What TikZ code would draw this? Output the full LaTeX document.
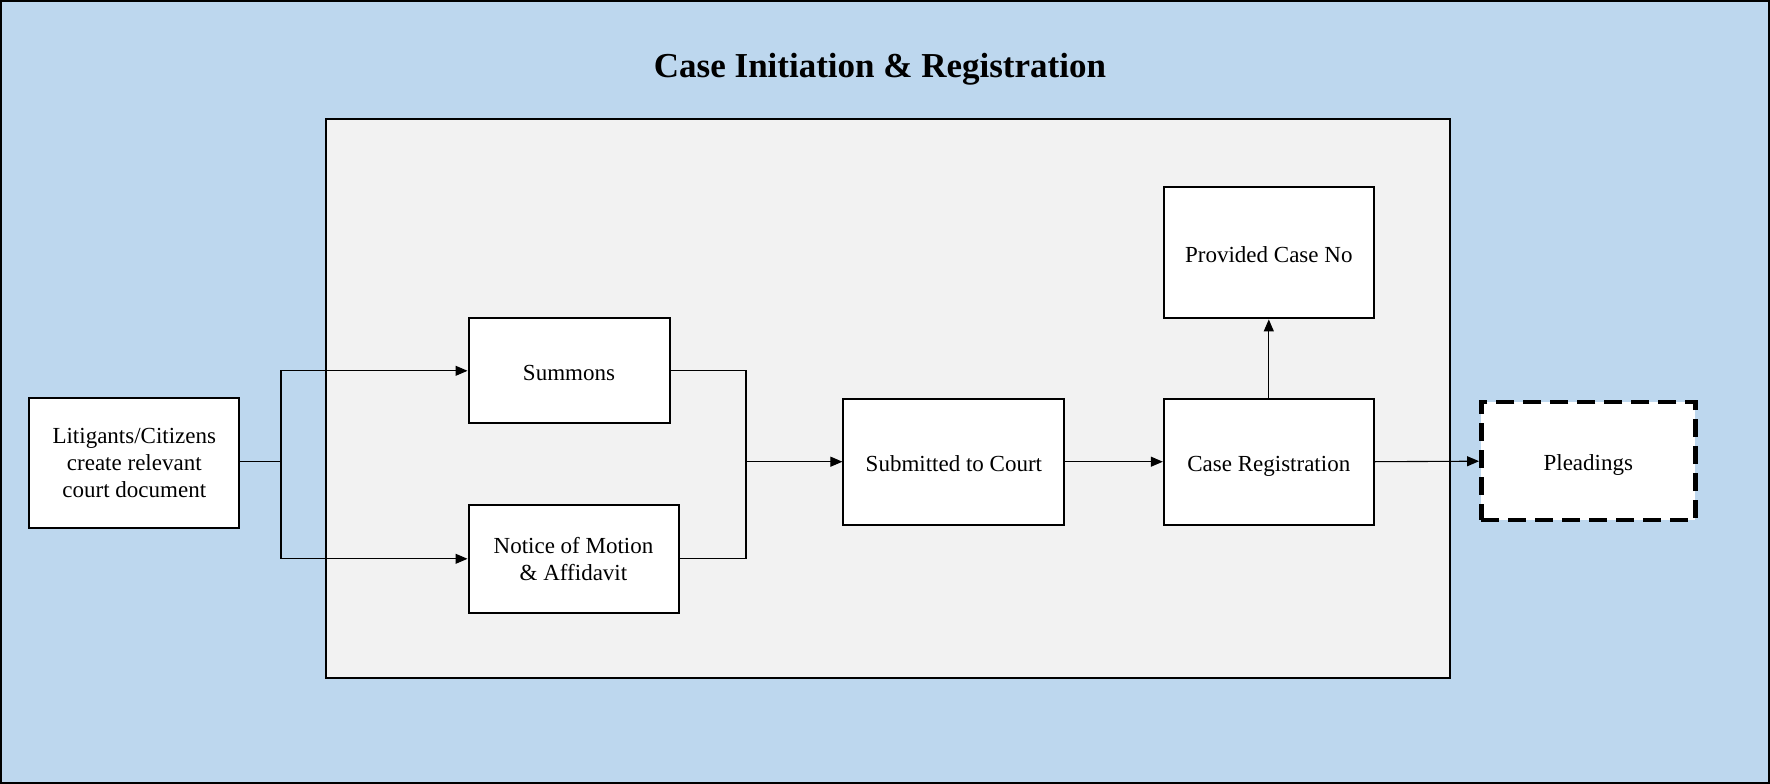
\documentclass[tikz,border=0pt]{standalone}
\usepackage{fontspec}
\setmainfont{Liberation Serif}
\usetikzlibrary{arrows.meta}
\definecolor{bgblue}{HTML}{BDD7EE}
\definecolor{panel}{HTML}{F2F2F2}
\tikzset{
  box/.style={draw=black, line width=2pt, fill=white, align=center, inner sep=4pt,
    font=\fontsize{23}{27}\selectfont},
  oneline/.style={text height=20pt, text depth=1pt},
  conn/.style={draw=black, line width=1.1pt},
  arr/.style={conn, -{Triangle[length=12pt,width=10pt]}},
}
\begin{document}
\begin{tikzpicture}[x=1pt,y=-1pt]
\useasboundingbox (0,0) rectangle (1770,784);
\fill[bgblue] (0,0) rectangle (1770,784);
\draw[line width=2pt] (1,1) rectangle (1769,783);
\node[font=\bfseries\fontsize{35}{40}\selectfont] (title) at (880,69) {Case Initiation \& Registration};
\draw[line width=2pt, fill=panel] (326,119) rectangle (1450,678);
\node[box, minimum width=210pt, minimum height=130pt] (lit) at (134.3,463.4) {Litigants/Citizens\\create relevant\\court document};
\node[box, oneline, minimum width=201pt, minimum height=105pt] (sum) at (569,370.8) {Summons};
\node[box, minimum width=210pt, minimum height=108pt] (not) at (573.5,558.8) {Notice of Motion\\\& Affidavit};
\node[box, oneline, minimum width=221pt, minimum height=126pt] (sub) at (953.9,461.7) {Submitted to Court};
\node[box, oneline, minimum width=210pt, minimum height=126pt] (reg) at (1268.8,461.7) {Case Registration};
\node[box, oneline, minimum width=210pt, minimum height=131pt] (prov) at (1268.8,252.9) {Provided Case No};
\node[box, oneline, line width=4.5pt, dash pattern=on 18pt off 9pt, minimum width=214pt, minimum height=118pt] (ple) at (1588.3,461.2) {Pleadings};
\coordinate (j1) at (281,461.7);
\coordinate (j2) at (746,461.7);
\draw[conn] (lit.east |- j1) -- (j1);
\draw[arr] (j1) |- (sum.west);
\draw[arr] (j1) |- (not.west);
\draw[conn] (sum.east) -| (j2);
\draw[conn] (not.east) -| (j2);
\draw[arr] (j2) -- (sub.west);
\draw[arr] (sub.east) -- (reg.west);
\draw[arr] (reg.north) -- (prov.south);
\draw[arr] (reg.east) -- (ple.west);
\end{tikzpicture}
\end{document}
